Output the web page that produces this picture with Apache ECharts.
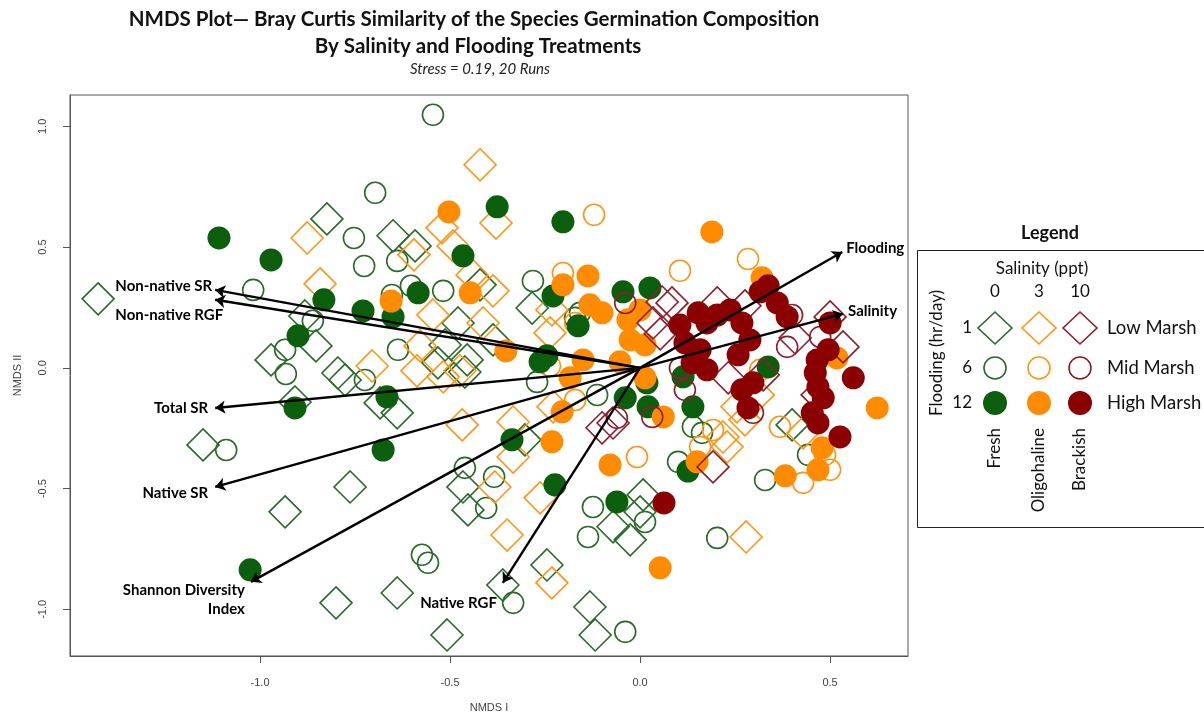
<!DOCTYPE html>
<html>
<head>
<meta charset="utf-8">
<script src="https://cdn.jsdelivr.net/npm/echarts@6/dist/echarts.min.js"></script>
<style>
  html, body { margin: 0; padding: 0; background: #fff; }
  #chart { width: 1204px; height: 719px; }
</style>
</head>
<body>
<div id="chart"></div>
<script>
// NMDS site scores (NMDS I, NMDS II) by treatment: salinity x flooding
const freshLow = [[-1.426,0.286],[-0.824,0.617],[-0.882,0.215],[-0.853,0.091],[-0.971,0.033],[-0.795,-0.021],[-0.908,-0.141],[-1.150,-0.319],[-0.934,-0.596],[-0.800,-0.973],[-0.763,-0.493],[-0.776,-0.050],[-0.650,0.547],[-0.592,0.505],[-0.421,0.344],[-0.284,0.248],[-0.479,0.186],[-0.387,0.116],[-0.513,0.095],[-0.455,0.033],[-0.532,0.021],[-0.461,-0.017],[-0.639,-0.186],[-0.684,-0.145],[-0.303,-0.298],[-0.466,-0.493],[-0.453,-0.588],[-0.245,-0.816],[-0.361,-0.899],[-0.639,-0.932],[-0.132,-0.990],[-0.118,-1.106],[-0.508,-1.106],[-0.071,-0.658],[0.008,-0.526],[0.000,-0.596],[-0.026,-0.712],[0.400,-0.236]];
const freshMid = [[-0.545,1.048],[-0.697,0.725],[-1.018,0.323],[-0.861,0.195],[-0.934,0.075],[-0.932,-0.025],[-1.089,-0.340],[-0.753,0.538],[-0.726,0.422],[-0.639,0.443],[-0.603,0.340],[-0.653,0.302],[-0.518,0.319],[-0.282,0.360],[-0.158,0.228],[-0.637,0.075],[-0.724,-0.050],[-0.271,-0.058],[-0.113,-0.112],[-0.461,-0.414],[-0.384,-0.451],[-0.405,-0.580],[-0.124,-0.576],[-0.137,-0.700],[-0.574,-0.774],[-0.558,-0.807],[-0.334,-0.973],[-0.039,-1.093],[0.013,-0.638],[0.203,-0.704],[0.329,-0.464],[0.442,-0.360],[0.163,-0.269],[0.139,-0.244],[0.100,-0.389],[-0.171,0.207]];
const freshHigh = [[-1.108,0.538],[-0.971,0.447],[-0.832,0.282],[-0.900,0.133],[-0.908,-0.166],[-1.026,-0.836],[-0.376,0.667],[-0.203,0.605],[-0.466,0.464],[-0.584,0.311],[-0.729,0.236],[-0.650,0.211],[-0.229,0.298],[-0.163,0.174],[-0.245,0.050],[-0.263,0.025],[-0.666,-0.120],[-0.676,-0.340],[-0.337,-0.298],[-0.224,-0.484],[-0.061,-0.555],[-0.045,0.315],[0.026,0.331],[0.113,-0.037],[0.139,-0.161],[0.018,-0.062],[-0.039,-0.124],[0.021,-0.161],[0.126,-0.427],[0.337,0.004]];
const oligoLow = [[-0.876,0.538],[-0.842,0.348],[-0.421,0.841],[-0.379,0.600],[-0.521,0.580],[-0.595,0.468],[-0.492,0.505],[-0.442,0.385],[-0.387,0.319],[-0.232,0.240],[-0.545,0.219],[-0.413,0.186],[-0.237,0.145],[-0.579,0.091],[-0.705,0.008],[-0.587,-0.012],[-0.474,-0.012],[-0.518,-0.037],[-0.468,-0.236],[-0.334,-0.224],[-0.334,-0.369],[-0.229,-0.161],[-0.382,-0.493],[-0.263,-0.538],[-0.350,-0.692],[-0.232,-0.890],[0.279,-0.700],[0.429,-0.269],[0.255,-0.161],[0.276,-0.215],[0.218,-0.286],[0.229,-0.327],[0.311,-0.112]];
const oligoMid = [[-0.121,0.634],[-0.203,0.393],[-0.171,0.186],[-0.237,0.008],[-0.171,-0.133],[0.105,0.402],[0.284,0.451],[0.192,-0.257],[-0.008,-0.369],[0.316,-0.008],[0.368,-0.244],[0.487,-0.360],[0.500,-0.422],[0.429,-0.476],[0.158,-0.327]];
const oligoHigh = [[-0.503,0.646],[-0.655,0.277],[-0.447,0.311],[-0.203,0.344],[-0.137,0.381],[-0.132,0.261],[-0.100,0.228],[-0.353,0.070],[-0.150,0.033],[-0.184,-0.041],[-0.205,-0.182],[-0.232,-0.306],[-0.079,-0.402],[0.189,0.563],[0.321,0.373],[-0.032,0.199],[0.000,0.240],[-0.026,0.116],[0.013,0.095],[-0.053,0.025],[0.013,-0.041],[0.061,-0.203],[0.150,-0.389],[0.053,-0.828],[0.518,0.041],[0.624,-0.166],[0.479,-0.331],[0.468,-0.422],[0.382,-0.447]];
const brackishLow = [[0.058,0.273],[0.034,0.186],[0.053,0.141],[0.203,0.269],[0.232,-0.041],[0.192,-0.410],[-0.100,-0.248],[-0.071,-0.228],[0.500,0.211],[0.534,0.087],[0.466,-0.112],[0.324,-0.029],[0.276,0.257],[0.408,0.124],[0.084,0.269]];
const brackishMid = [[-0.039,0.269],[0.105,0.000],[0.118,-0.091],[0.032,-0.203],[-0.061,-0.207],[0.400,0.219],[0.474,0.128],[0.387,0.087],[0.297,-0.186]];
const brackishHigh = [[0.337,0.340],[0.316,0.315],[0.361,0.269],[0.387,0.211],[0.105,0.178],[0.153,0.228],[0.176,0.186],[0.118,0.104],[0.158,0.075],[0.137,0.021],[0.176,-0.008],[0.237,0.240],[0.268,0.186],[0.289,0.116],[0.268,-0.091],[0.297,-0.062],[0.500,0.186],[0.495,0.075],[0.466,0.033],[0.461,-0.021],[0.561,-0.041],[0.468,-0.079],[0.482,-0.124],[0.453,-0.186],[0.468,-0.228],[0.526,-0.286],[0.063,-0.559],[0.284,-0.166],[0.203,0.219],[0.258,0.054]];

// Fitted environmental / response vectors (arrow tips)
const vectorNames = ['Flooding', 'Salinity', 'Non-native SR', 'Non-native RGF', 'Total SR', 'Native SR', 'Shannon Diversity\nIndex', 'Native RGF'];
const vectorX = [0.532, 0.534, -1.118, -1.118, -1.118, -1.118, -1.024, -0.361];
const vectorY = [0.480, 0.224, 0.323, 0.282, -0.166, -0.493, -0.886, -0.890];

// Axis ticks
const xTicks = [-1.0, -0.5, 0.0, 0.5];
const yTicks = [-1.0, -0.5, 0.0, 0.5, 1.0];

// Legend text
const salinityLevels = ['0', '3', '10'];
const salinityNames = ['Fresh', 'Oligohaline', 'Brackish'];
const floodLevels = ['1', '6', '12'];
const marshNames = ['Low Marsh', 'Mid Marsh', 'High Marsh'];

const C = {
  greenLine: '#276b27', greenFill: '#0b5e0b',
  orangeLine: '#ff9514', orangeFill: '#ff8c00',
  redLine: '#8e1d2c', redFill: '#8b0000'
};
const lineCols = [C.greenLine, C.orangeLine, C.redLine];
const fillCols = [C.greenFill, C.orangeFill, C.redFill];

function diamondSeries(name, data, col) {
  return { name, type: 'scatter', data, symbol: 'diamond', symbolSize: 32, silent: true,
    itemStyle: { color: 'rgba(0,0,0,0)', borderColor: col, borderWidth: 1.6, opacity: 1 } };
}
function ringSeries(name, data, col) {
  return { name, type: 'scatter', data, symbol: 'circle', symbolSize: 21, silent: true,
    itemStyle: { color: 'rgba(0,0,0,0)', borderColor: col, borderWidth: 1.6, opacity: 1 } };
}
function dotSeries(name, data, col) {
  return { name, type: 'scatter', data, symbol: 'circle', symbolSize: 23, silent: true,
    itemStyle: { color: col, opacity: 1 } };
}

// label placement for each vector name
const vecLabelPos = [
  { position: 'right', distance: 4, offset: [0, -4], align: 'left' },
  { position: 'right', distance: 5, offset: [0, -3], align: 'left' },
  { position: 'left', distance: 3, offset: [0, -4], align: 'right' },
  { position: 'left', distance: -8, offset: [0, 15], align: 'right' },
  { position: 'left', distance: 7, offset: [0, 0], align: 'right' },
  { position: 'left', distance: 7, offset: [0, 6], align: 'right' },
  { position: 'left', distance: 6, offset: [0, 18], align: 'right' },
  { position: 'left', distance: 6, offset: [0, 20], align: 'right' }
];

const vectorLines = vectorX.map((x, i) => ({ coords: [[0, 0], [x, vectorY[i]]] }));
const vectorTips = vectorX.map((x, i) => ({
  value: [x, vectorY[i]],
  label: Object.assign({ show: true, formatter: vectorNames[i] }, vecLabelPos[i])
}));

// Legend block drawn with graphic elements
const LEG = { colX: [995, 1039, 1080], rowY: [328, 368, 403] };
const legendGraphics = [];
legendGraphics.push({ type: 'text', x: 1050, y: 233, style: { text: 'Legend', font: 'bold 18px Lato', fill: '#111', align: 'center', verticalAlign: 'middle' } });
legendGraphics.push({ type: 'rect', shape: { x: 917.5, y: 250.5, width: 300, height: 277 }, style: { fill: 'none', stroke: '#222', lineWidth: 1 } });
legendGraphics.push({ type: 'text', x: 1042, y: 269, style: { text: 'Salinity (ppt)', font: '17px Lato', fill: '#111', align: 'center', verticalAlign: 'middle' } });
legendGraphics.push({ type: 'text', x: 937, y: 353, rotation: Math.PI / 2, style: { text: 'Flooding (hr/day)', font: '17px Lato', fill: '#111', align: 'center', verticalAlign: 'middle' } });
salinityLevels.forEach((s, j) => {
  legendGraphics.push({ type: 'text', x: LEG.colX[j], y: 292, style: { text: s, font: '17px Lato', fill: '#111', align: 'center', verticalAlign: 'middle' } });
  legendGraphics.push({ type: 'text', x: LEG.colX[j], y: 428, rotation: Math.PI / 2, style: { text: salinityNames[j], font: '17px Lato', fill: '#111', align: 'right', verticalAlign: 'middle' } });
});
floodLevels.forEach((f, i) => {
  legendGraphics.push({ type: 'text', x: 972, y: LEG.rowY[i], style: { text: f, font: '17px Lato', fill: '#111', align: 'right', verticalAlign: 'middle' } });
  legendGraphics.push({ type: 'text', x: 1107, y: LEG.rowY[i], style: { text: marshNames[i], font: '18.5px Lato', fill: '#111', align: 'left', verticalAlign: 'middle' } });
});
LEG.colX.forEach((cx, j) => {
  const cy0 = LEG.rowY[0];
  legendGraphics.push({ type: 'polygon', shape: { points: [[cx, cy0 - 16], [cx + 17, cy0], [cx, cy0 + 16], [cx - 17, cy0]] }, style: { fill: 'none', stroke: lineCols[j], lineWidth: 1.6 } });
  legendGraphics.push({ type: 'circle', shape: { cx, cy: LEG.rowY[1], r: 11 }, style: { fill: 'none', stroke: lineCols[j], lineWidth: 1.6 } });
  legendGraphics.push({ type: 'circle', shape: { cx, cy: LEG.rowY[2], r: 12 }, style: { fill: fillCols[j] } });
});

const titleGraphics = [
  { type: 'text', x: 474, y: 19, style: { text: 'NMDS Plot\u2014 Bray Curtis Similarity of the Species Germination Composition', font: 'bold 20.5px Lato', fill: '#111', align: 'center', verticalAlign: 'middle' } },
  { type: 'text', x: 478, y: 46, style: { text: 'By Salinity and Flooding Treatments', font: 'bold 20.5px Lato', fill: '#111', align: 'center', verticalAlign: 'middle' } },
  { type: 'text', x: 480, y: 69, style: { text: 'Stress = 0.19, 20 Runs', font: 'italic 15px Lato', fill: '#222', align: 'center', verticalAlign: 'middle' } }
];

const chart = echarts.init(document.getElementById('chart'), null, { renderer: 'canvas' });
chart.setOption({
  animation: false,
  backgroundColor: '#fff',
  grid: { left: 70, right: 296, top: 95, bottom: 63, show: true, borderColor: '#555', borderWidth: 1, backgroundColor: 'transparent' },
  xAxis: {
    type: 'value', min: -1.5, max: 0.705,
    name: 'NMDS I', nameLocation: 'middle', nameGap: 46,
    nameTextStyle: { fontFamily: 'Liberation Sans', fontSize: 11, color: '#444' },
    axisLine: { show: true, onZero: false, lineStyle: { color: '#555', width: 1 } },
    axisTick: { show: true, inside: false, length: 7, lineStyle: { color: '#555' }, customValues: xTicks },
    axisLabel: { margin: 21, fontFamily: 'Liberation Sans', fontSize: 11, color: '#444', customValues: xTicks, formatter: v => v.toFixed(1) },
    splitLine: { show: false }
  },
  yAxis: {
    type: 'value', min: -1.193, max: 1.13,
    name: 'NMDS II', nameLocation: 'middle', nameGap: 47, nameRotate: 90,
    nameTextStyle: { fontFamily: 'Liberation Sans', fontSize: 11, color: '#444' },
    axisLine: { show: true, onZero: false, lineStyle: { color: '#555', width: 1 } },
    axisTick: { show: true, inside: false, length: 7, lineStyle: { color: '#555' }, customValues: yTicks },
    axisLabel: { margin: 22, rotate: 90, fontFamily: 'Liberation Sans', fontSize: 11, color: '#444', customValues: yTicks, formatter: v => v.toFixed(1) },
    splitLine: { show: false }
  },
  graphic: titleGraphics.concat(legendGraphics),
  series: [
    diamondSeries('Fresh Low', freshLow, C.greenLine),
    ringSeries('Fresh Mid', freshMid, C.greenLine),
    diamondSeries('Oligohaline Low', oligoLow, C.orangeLine),
    ringSeries('Oligohaline Mid', oligoMid, C.orangeLine),
    dotSeries('Fresh High', freshHigh, C.greenFill),
    dotSeries('Oligohaline High', oligoHigh, C.orangeFill),
    diamondSeries('Brackish Low', brackishLow, C.redLine),
    ringSeries('Brackish Mid', brackishMid, C.redLine),
    dotSeries('Brackish High', brackishHigh, C.redFill),
    {
      name: 'Vectors', type: 'lines', coordinateSystem: 'cartesian2d', silent: true, z: 5,
      data: vectorLines,
      symbol: ['none', 'arrow'], symbolSize: 10,
      lineStyle: { color: '#000', width: 2.4, opacity: 1, curveness: 0 }
    },
    {
      name: 'Vector labels', type: 'scatter', data: vectorTips, symbolSize: 0, silent: true, z: 6,
      itemStyle: { opacity: 1 },
      label: { show: true, fontFamily: 'Lato', fontWeight: 'bold', fontSize: 15, color: '#000', lineHeight: 19 }
    }
  ]
});
</script>
</body>
</html>
